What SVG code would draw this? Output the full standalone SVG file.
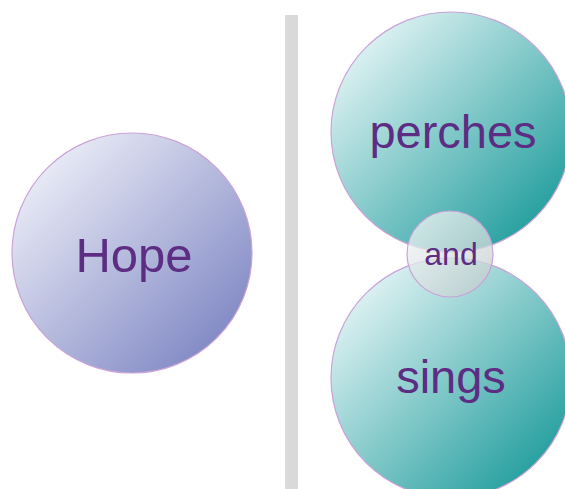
<svg xmlns="http://www.w3.org/2000/svg" width="565" height="489" viewBox="0 0 565 489">
<style>
.lbl{font-family:"Liberation Sans",Arial,sans-serif;fill:#5c2d82;text-anchor:middle}
.ring{stroke:#c9a2d8;stroke-width:1.2}
</style>
<defs>
<linearGradient id="gBlue" x1="0.15" y1="0.15" x2="0.9" y2="0.9">
<stop offset="0" stop-color="#e6e8f4"/>
<stop offset="1" stop-color="#7e86c3"/>
</linearGradient>
<linearGradient id="gTeal" x1="0.15" y1="0.15" x2="0.9" y2="0.9">
<stop offset="0" stop-color="#d8eff0"/>
<stop offset="1" stop-color="#1f9c9c"/>
</linearGradient>
<linearGradient id="gGray" x1="0.15" y1="0.15" x2="0.9" y2="0.9">
<stop offset="0" stop-color="#eef2f2"/>
<stop offset="1" stop-color="#c4cece"/>
</linearGradient>
</defs>
<rect x="0" y="0" width="565" height="489" fill="#ffffff"/>
<rect id="divider" x="285" y="15" width="13" height="474" fill="#d9d9d9"/>
<g id="hope">
<circle class="ring" cx="132" cy="253" r="120" fill="url(#gBlue)"/>
<text class="lbl" x="134" y="272" font-size="49">Hope</text>
</g>
<g id="perches">
<circle class="ring" cx="451" cy="132" r="120" fill="url(#gTeal)"/>
<text class="lbl" x="453" y="148" font-size="47">perches</text>
</g>
<g id="sings">
<circle class="ring" cx="451" cy="378" r="120" fill="url(#gTeal)"/>
<text class="lbl" x="451" y="393" font-size="47">sings</text>
</g>
<g id="and">
<circle class="ring" cx="450" cy="254" r="43" fill="url(#gGray)" fill-opacity="0.75"/>
<text class="lbl" x="451" y="265" font-size="32">and</text>
</g>
<g id="connectors"></g>
</svg>
